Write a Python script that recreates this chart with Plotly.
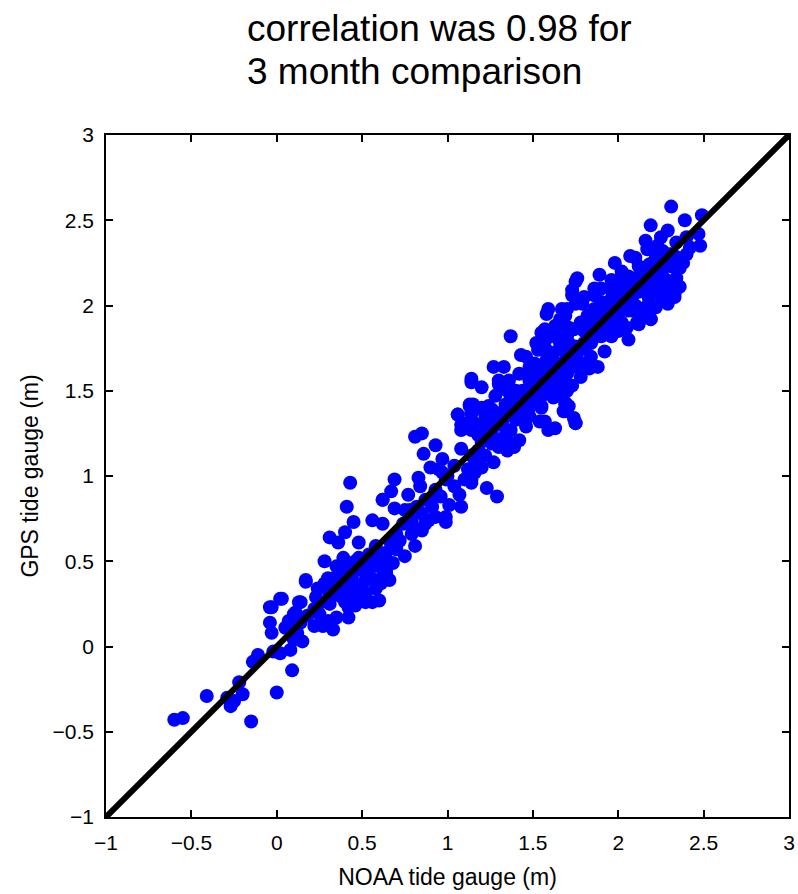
import plotly.graph_objects as go

# NOAA tide gauge (m) vs GPS tide gauge (m)
noaa = [
    -0.60, -0.55, -0.41, -0.29, -0.27, -0.25, -0.20, -0.22, -0.15, 0.00, 0.09, -0.14, -0.11, -0.02, 0.02, 0.08,
    -0.03, -0.04, -0.03, 0.03, 0.14, 0.11, 0.07, 0.05, 0.12, 0.15, 0.10, 0.17, 0.22, 0.30, 0.27, 0.33,
    0.43, 0.41, 0.45, 0.56, 0.62, 0.62, 0.40, 0.31, 0.36, 0.48, 0.39, 0.28, 0.35, 0.17, 0.28, 0.35,
    0.48, 0.58, 0.64, 0.02, -0.04, 0.13, 0.23, 0.10, 0.25, 0.31, 0.38, 0.46, 0.52, 0.58, 0.56, 0.42,
    0.35, 0.42, 0.52, 0.60, 0.64, 0.49, 0.55, 0.40, 0.44, 0.48, 0.50, 0.45, 0.54, 0.40, 0.37, 0.33, 0.30,
    1.14, 1.13, 1.06, 1.14, 1.11, 1.08, 1.14, 0.81, 0.85, 0.93, 0.86, 0.97, 1.08, 1.14, 0.90, 0.95,
    0.83, 0.69, 0.67, 0.77, 0.84, 0.62, 0.69, 0.75, 0.87, 0.91, 0.93, 0.99, 0.87, 0.79, 0.85, 1.01,
    1.07, 1.08, 1.10, 1.14, 1.12, 0.97, 0.99, 0.93,
    0.85, 0.99, 0.89, 0.79, 0.81, 0.75, 0.70, 0.68, 0.64, 0.66, 0.61, 0.60, 0.63,
    1.75, 1.58, 1.69, 1.75, 1.37, 1.55, 1.63, 1.69, 1.57, 1.65, 1.71, 1.43, 1.53, 1.59, 1.27, 1.33,
    1.14, 1.30, 1.36, 1.31, 1.36, 1.28, 1.48, 1.51, 1.49, 1.48, 1.55, 1.53, 1.61, 1.63, 1.67, 1.42,
    1.46, 1.44, 1.48, 1.40, 1.72, 1.69, 1.69, 1.75, 1.55, 1.57, 1.63, 1.06, 1.13, 1.20, 1.26, 1.08,
    1.14, 1.31, 1.26, 1.73, 1.65, 1.59, 1.71, 1.75, 1.67,
    1.71, 1.65, 1.57, 1.53, 1.55, 1.69, 1.68, 1.75, 1.59, 1.54, 1.46, 1.45, 1.37, 1.31, 1.24, 1.15,
    1.14, 1.16, 1.26, 1.30, 1.39, 1.35, 1.27, 1.20, 1.16, 1.16, 1.23, 1.29, 1.14, 1.42, 1.40, 1.48,
    1.20, 1.30, 1.36, 1.16,
    2.31, 2.39, 2.49, 2.19, 2.29, 2.34, 2.23, 2.17, 2.48, 2.47, 2.40, 2.36, 2.31, 2.34, 2.36, 2.29,
    2.33, 2.07, 2.12, 1.98, 1.89, 1.76, 1.86, 1.96, 2.06, 2.18, 2.22, 2.26, 2.18, 2.26, 2.22, 2.19,
    2.12, 2.06, 2.16, 2.05, 1.94, 1.86, 1.79, 1.73, 1.67, 1.59, 1.57, 1.63, 1.71, 1.82, 1.90, 1.96,
    1.86, 1.94,
    2.19, 2.11, 2.06, 2.00, 1.92, 1.88, 1.83, 1.79, 1.75, 1.73, 1.71, 1.74, 2.18, 2.26, 2.29, 2.33,
    2.08, 2.00, 1.90, 1.84,
    1.45, 1.50, 1.55, 1.60, 1.65, 1.70, 1.50, 1.60, 1.65, 1.70, 1.75, 1.80, 1.80, 1.85, 1.90, 1.95,
    2.00, 2.05, 2.10, 2.00, 1.90, 1.85, 1.95, 2.00, 2.10, 2.15, 1.60, 1.55, 1.40, 1.35, 1.30, 1.25,
    1.20, 1.22, 1.28, 1.18, 2.25, 2.30, 2.20, 2.40, 2.25, 2.35,
    1.48, 1.52, 1.56, 1.58, 1.62, 1.66, 1.70, 1.74, 1.78, 1.82, 1.86, 1.90, 1.94, 1.98, 2.02, 2.06,
    2.10, 2.14, 2.18, 2.22, 2.26,
    1.52, 1.56, 1.60, 1.64, 1.68, 1.72, 1.76, 1.80, 1.84, 1.88, 1.92, 1.96, 2.00, 2.04, 2.08, 2.12,
    2.16, 2.20, 2.24, 2.28, 2.32,
    1.62, 1.66, 1.70, 1.78, 1.84, 1.96, 2.02, 2.14, 2.24, 2.28, 2.38, 2.42,
    1.42, 1.46, 1.52, 1.60, 1.66, 1.70, 1.80, 1.90, 2.02, 2.10, 2.16,
    1.18, 1.22, 1.26, 1.32, 1.34, 1.38, 1.40, 1.44, 1.34, 1.36, 1.22, 1.04, 1.00, 1.04, 0.96, 0.90,
    0.82, 0.78, 0.74, 0.70, 0.66, 0.72, 0.80,
    0.34, 0.38, 0.42, 0.46, 0.50, 0.54, 0.56, 0.60, 0.44, 0.40, 0.46, 0.52, 0.58, 0.62, 0.26, 0.22,
    0.18, 0.14, 0.30, 0.24,
]
gps = [
    -0.43, -0.42, -0.29, -0.30, -0.35, -0.32, -0.28, -0.21, -0.44, -0.27, -0.14, -0.09, -0.05, -0.03, -0.04, -0.02,
    0.08, 0.14, 0.23, 0.28, 0.26, 0.20, 0.15, 0.11, 0.08, 0.03, 0.04, 0.38, 0.12, 0.15, 0.12, 0.10,
    0.96, 0.82, 0.73, 0.74, 0.86, 0.72, 0.67, 0.64, 0.61, 0.61, 0.52, 0.50, 0.47, 0.39, 0.37, 0.41,
    0.52, 0.59, 0.55, 0.28, 0.23, 0.26, 0.29, 0.19, 0.19, 0.25, 0.29, 0.35, 0.39, 0.39, 0.26, 0.23,
    0.17, 0.17, 0.31, 0.47, 0.43, 0.45, 0.51, 0.35, 0.40, 0.30, 0.36, 0.28, 0.44, 0.42, 0.34, 0.30, 0.33,
    1.55, 1.42, 1.36, 1.37, 1.31, 1.27, 1.27, 1.23, 1.25, 1.18, 1.13, 1.10, 1.16, 1.12, 1.05, 1.04,
    0.99, 0.98, 0.91, 0.89, 0.94, 0.86, 0.81, 0.80, 0.86, 0.82, 0.76, 0.76, 0.72, 0.74, 0.78, 0.83,
    0.89, 0.82, 0.98, 0.98, 1.04, 1.02, 0.98, 0.92,
    0.68, 0.73, 0.74, 0.66, 0.59, 0.53, 0.57, 0.49, 0.45, 0.39, 0.37, 0.27, 0.53,
    2.14, 1.95, 1.94, 2.01, 1.82, 1.84, 1.88, 1.88, 1.79, 1.80, 1.78, 1.71, 1.74, 1.73, 1.64, 1.64,
    1.57, 1.56, 1.56, 1.51, 1.49, 1.47, 1.64, 1.66, 1.58, 1.52, 1.60, 1.52, 1.66, 1.58, 1.66, 1.44,
    1.48, 1.37, 1.40, 1.34, 1.53, 1.43, 1.38, 1.31, 1.40, 1.32, 1.28, 1.36, 1.41, 1.40, 1.39, 1.30,
    1.29, 1.37, 1.34, 2.09, 1.89, 1.85, 1.70, 1.76, 1.74,
    1.53, 1.52, 1.48, 1.44, 1.41, 1.42, 1.38, 1.31, 1.27, 1.32, 1.29, 1.35, 1.27, 1.36, 1.41, 1.42,
    1.37, 1.31, 1.19, 1.17, 1.17, 1.15, 1.08, 1.05, 1.09, 1.02, 0.93, 0.88, 0.96, 1.21, 1.33, 1.35,
    1.52, 1.54, 1.50, 1.13,
    2.58, 2.50, 2.53, 2.47, 2.44, 2.37, 2.35, 2.33, 2.35, 2.42, 2.30, 2.22, 2.23, 2.16, 2.11, 2.11,
    2.05, 2.29, 2.23, 2.25, 2.18, 2.16, 2.10, 2.15, 2.17, 2.17, 2.11, 2.17, 2.05, 2.03, 1.99, 1.92,
    1.89, 1.97, 1.99, 1.87, 1.85, 1.92, 2.01, 2.06, 1.98, 1.98, 1.86, 1.83, 1.87, 1.83, 1.98, 2.04,
    2.06, 1.92,
    1.92, 1.90, 1.80, 1.85, 1.73, 1.64, 1.63, 1.66, 1.64, 1.53, 1.41, 1.34, 2.04, 2.05, 2.01, 2.07,
    1.97, 1.91, 1.82, 1.78,
    1.45, 1.50, 1.55, 1.60, 1.65, 1.70, 1.45, 1.50, 1.55, 1.60, 1.70, 1.75, 1.85, 1.90, 1.95, 1.90,
    2.00, 2.05, 2.10, 1.95, 1.85, 1.80, 2.10, 2.15, 2.00, 2.15, 1.70, 1.65, 1.50, 1.40, 1.30, 1.25,
    1.20, 1.30, 1.22, 1.15, 2.25, 2.30, 2.25, 2.40, 2.40, 2.28,
    1.56, 1.60, 1.62, 1.68, 1.72, 1.76, 1.82, 1.86, 1.90, 1.94, 1.98, 2.02, 2.00, 2.05, 2.10, 2.12,
    2.16, 2.20, 2.24, 2.28, 2.32,
    1.46, 1.50, 1.54, 1.60, 1.64, 1.66, 1.72, 1.78, 1.84, 1.88, 1.90, 1.94, 1.98, 2.00, 2.04, 2.08,
    2.12, 2.16, 2.20, 2.24, 2.30,
    1.46, 1.48, 1.50, 1.58, 1.70, 1.82, 1.90, 1.96, 2.08, 2.15, 2.25, 2.34,
    1.60, 1.70, 1.78, 1.82, 1.92, 1.98, 2.05, 2.10, 2.20, 2.28, 2.38,
    1.24, 1.36, 1.28, 1.32, 1.42, 1.38, 1.44, 1.50, 1.24, 1.20, 1.12, 1.06, 1.00, 0.94, 0.88, 0.86,
    0.82, 0.80, 0.72, 0.66, 0.62, 0.62, 0.70,
    0.36, 0.38, 0.46, 0.50, 0.48, 0.54, 0.48, 0.52, 0.32, 0.26, 0.24, 0.26, 0.34, 0.40, 0.26, 0.22,
    0.18, 0.14, 0.40, 0.34,
]

line_x = [-1, 3]
line_y = [-1, 3]
tick_vals = [-1, -0.5, 0, 0.5, 1, 1.5, 2, 2.5, 3]

title_lines = ["correlation was 0.98 for", "3 month comparison"]
x_title = "NOAA tide gauge (m)"
y_title = "GPS tide gauge (m)"

FONT = "Liberation Sans, Arial, Helvetica, sans-serif"

fig = go.Figure()
fig.add_trace(go.Scatter(
    x=noaa, y=gps, mode="markers",
    marker=dict(size=14, color="#0000ff", line=dict(width=0)),
    showlegend=False, hoverinfo="x+y",
))
fig.add_trace(go.Scatter(
    x=line_x, y=line_y, mode="lines",
    line=dict(color="black", width=6),
    showlegend=False, hoverinfo="skip",
))

axis_common = dict(
    range=[-1, 3], tickmode="array", tickvals=tick_vals,
    showgrid=False, zeroline=False, automargin=False,
    showline=True, linecolor="black", linewidth=1.5, mirror="ticks",
    ticks="inside", ticklen=7, tickwidth=1.5, tickcolor="black",
    tickfont=dict(family=FONT, size=21, color="black"),
)

fig.update_layout(
    width=798, height=894,
    margin=dict(l=106, r=9, t=135, b=77),
    paper_bgcolor="white", plot_bgcolor="white",
    font=dict(family=FONT, color="black"),
    xaxis=dict(**axis_common, ticklabelstandoff=6,
               title=dict(text=x_title, font=dict(family=FONT, size=23, color="black"), standoff=16)),
    yaxis=dict(**axis_common, ticklabelstandoff=6,
               title=dict(text=y_title, font=dict(family=FONT, size=23, color="black"), standoff=8)),
    annotations=[
        dict(text=title_lines[0], xref="paper", yref="paper", x=(245 - 106) / 683, y=1.123,
             xanchor="left", yanchor="bottom", showarrow=False,
             font=dict(family=FONT, size=37, color="black")),
        dict(text=title_lines[1], xref="paper", yref="paper", x=(245 - 106) / 683, y=1.060,
             xanchor="left", yanchor="bottom", showarrow=False,
             font=dict(family=FONT, size=37, color="black")),
    ],
)

fig.write_html("out.html")
